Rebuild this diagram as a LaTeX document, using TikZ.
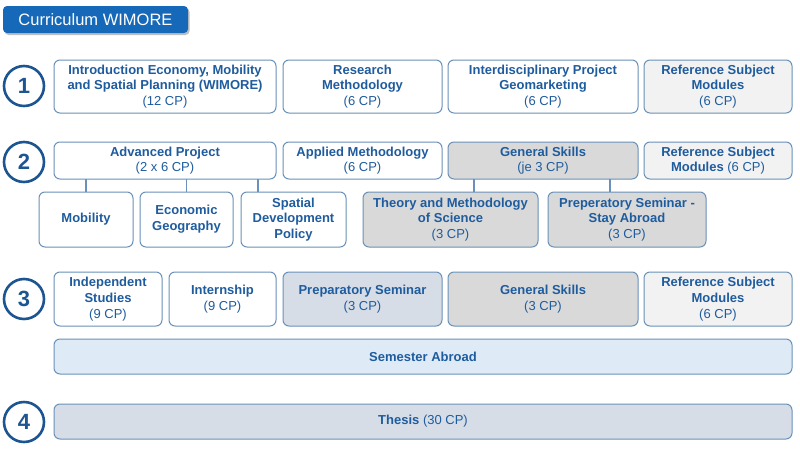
\documentclass[tikz,border=0pt]{standalone}
\usepackage{fontspec}
\setmainfont{Liberation Sans}
\definecolor{titlefill}{RGB}{22,104,184}
\definecolor{txtc}{RGB}{31,92,158}
\definecolor{bordc}{RGB}{105,145,185}
\definecolor{circc}{RGB}{28,85,145}
\definecolor{grayA}{RGB}{217,217,217}
\definecolor{grayL}{RGB}{242,242,242}
\definecolor{blueG}{RGB}{214,221,230}
\definecolor{blueL}{RGB}{222,235,247}
\tikzset{
  box/.style={draw=bordc, line width=1pt, rounded corners=6pt, fill=white, text=txtc,
    font=\fontsize{13}{15.7}\selectfont, align=center, inner sep=0pt, outer sep=0pt},
  num/.style={circle, draw=circc, line width=2.6pt, fill=white, text=circc,
    font=\bfseries\fontsize{22}{24}\selectfont, minimum size=40pt, inner sep=0pt},
  conn/.style={draw=bordc, line width=1.2pt},
}
\newcommand{\bx}[1]{\textbf{#1}}
\begin{document}
\begin{tikzpicture}[x=1pt,y=-1pt]
\useasboundingbox (0,0) rectangle (800,450);
% title
\node[fill=black!25, rounded corners=4pt, minimum width=185pt, minimum height=27pt, inner sep=0pt] at (97,21.5) {};
\node[fill=titlefill, rounded corners=4pt, minimum width=185pt, minimum height=27pt, inner sep=0pt,
  text=white, font=\fontsize{16.5}{18}\selectfont] (title) at (95.5,19.5) {Curriculum WIMORE};
% circles
\node[num] (c1) at (24,86) {1};
\node[num] (c2) at (24,162) {2};
\node[num] (c3) at (24,299) {3};
\node[num] (c4) at (24,422) {4};
% row 1
\node[box, minimum width=222pt, minimum height=53pt] (b11) at (165,86.5) {\bx{Introduction Economy, Mobility}\\\bx{and Spatial Planning (WIMORE)}\\(12 CP)};
\node[box, minimum width=159pt, minimum height=53pt] (b12) at (362.5,86.5) {\bx{Research}\\\bx{Methodology}\\(6 CP)};
\node[box, minimum width=190pt, minimum height=53pt] (b13) at (543,86.5) {\bx{Interdisciplinary Project}\\\bx{Geomarketing}\\(6 CP)};
\node[box, fill=grayL, minimum width=148pt, minimum height=53pt] (b14) at (718,86.5) {\bx{Reference Subject}\\\bx{Modules}\\(6 CP)};
% row 2 top
\node[box, minimum width=222pt, minimum height=37pt] (adv) at (165,160.5) {\bx{Advanced Project}\\(2 x 6 CP)};
\node[box, minimum width=159pt, minimum height=37pt] (apm) at (362.5,160.5) {\bx{Applied Methodology}\\(6 CP)};
\node[box, fill=grayA, minimum width=190pt, minimum height=37pt] (gs2) at (543,160.5) {\bx{General Skills}\\(je 3 CP)};
\node[box, fill=grayL, minimum width=148pt, minimum height=37pt] (ref2) at (718,160.5) {\bx{Reference Subject}\\\bx{Modules} (6 CP)};
% row 2 bottom
\node[box, minimum width=94pt, minimum height=55pt] (mob) at (86,219.5) {\bx{Mobility}};
\node[box, minimum width=93pt, minimum height=55pt] (eco) at (186.5,219.5) {\bx{Economic}\\\bx{Geography}};
\node[box, minimum width=105pt, minimum height=55pt] (spd) at (293.5,219.5) {\bx{Spatial}\\\bx{Development}\\\bx{Policy}};
\node[box, fill=grayA, minimum width=175pt, minimum height=55pt] (tms) at (450.5,219.5) {\bx{Theory and Methodology}\\\bx{of Science}\\(3 CP)};
\node[box, fill=grayA, minimum width=158pt, minimum height=55pt] (pss) at (627,219.5) {\bx{Preperatory Seminar -}\\\bx{Stay Abroad}\\(3 CP)};
% connectors
\draw[conn] (mob.north) -- (mob.north |- adv.south);
\draw[conn] (eco.north) -- (eco.north |- adv.south);
\draw[conn] ([xshift=-35.5pt]spd.north) -- ([xshift=-35.5pt]spd.north |- adv.south);
\draw[conn] ([xshift=23.5pt]tms.north) -- ([xshift=23.5pt]tms.north |- gs2.south);
\draw[conn] ([xshift=-17pt]pss.north) -- ([xshift=-17pt]pss.north |- gs2.south);
% row 3
\node[box, minimum width=108pt, minimum height=54pt] (ind) at (108,299) {\bx{Independent}\\\bx{Studies}\\(9 CP)};
\node[box, minimum width=107pt, minimum height=54pt] (int) at (222.5,299) {\bx{Internship}\\(9 CP)};
\node[box, fill=blueG, minimum width=159pt, minimum height=54pt] (ps3) at (362.5,299) {\bx{Preparatory Seminar}\\(3 CP)};
\node[box, fill=grayA, minimum width=190pt, minimum height=54pt] (gs3) at (543,299) {\bx{General Skills}\\(3 CP)};
\node[box, fill=grayL, minimum width=148pt, minimum height=54pt] (ref3) at (718,299) {\bx{Reference Subject}\\\bx{Modules}\\(6 CP)};
% semester abroad
\node[box, fill=blueL, minimum width=738pt, minimum height=35pt] (sem) at (423,356.5) {\bx{Semester Abroad}};
% row 4
\node[box, fill=blueG, minimum width=738pt, minimum height=35pt] (thesis) at (423,421.5) {\bx{Thesis} (30 CP)};
\end{tikzpicture}
\end{document}
